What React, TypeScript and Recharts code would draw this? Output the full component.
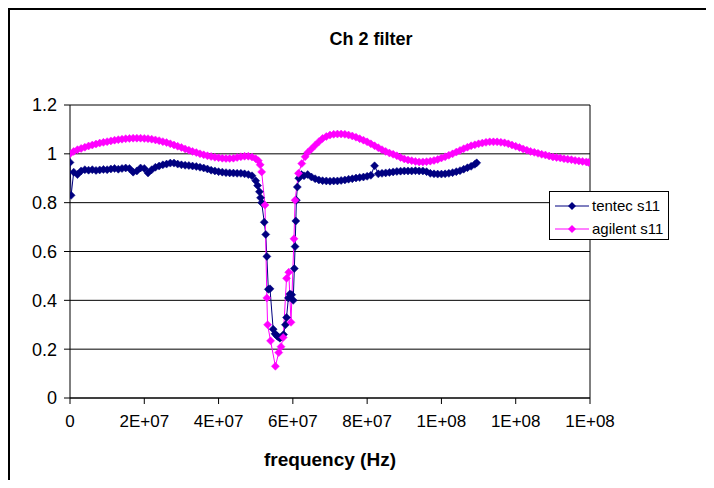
import { LineChart, Line, CartesianGrid, XAxis, YAxis, ReferenceLine, Legend, Label } from 'recharts';

// frequency in MHz, s11 magnitude
const tentecMHz = [
  0, 0.3, 1, 2, 3, 4, 5, 6, 7, 8, 9, 10, 11, 12, 13, 14, 15, 16, 17, 18, 19, 20,
  21, 22, 23, 24, 25, 26, 27, 28, 29, 30, 31, 32, 33, 34, 35, 36, 37, 38, 39, 40,
  41, 42, 43, 44, 45, 46, 47, 48, 49, 50, 50.5, 51, 51.3, 51.6, 52.3, 52.7, 53, 53.4, 53.85,
  54.7, 55.2, 55.7, 56.1, 56.5, 57, 57.5, 58, 58.3, 58.8, 59.2, 59.7, 60.1, 60.4, 60.6,
  60.8, 60.95, 61.2, 61.6, 62.3, 63, 64, 65, 66, 67, 68, 69, 70, 71, 72, 73, 74, 75,
  76, 77, 78, 79, 80, 81, 82, 83, 84, 85, 86, 87, 88, 89, 90, 91, 92, 93, 94, 95, 96,
  97, 98, 99, 100, 101, 102, 103, 104, 105, 106, 107, 108, 109, 109.5,
];
const tentecS11 = [
  0.965, 0.83, 0.925, 0.915, 0.93, 0.935, 0.933, 0.935, 0.932, 0.934, 0.936, 0.935, 0.938, 0.94, 0.937, 0.94, 0.942, 0.94, 0.925, 0.93, 0.942, 0.94,
  0.922, 0.935, 0.945, 0.95, 0.955, 0.958, 0.962, 0.962, 0.958, 0.955, 0.953, 0.952, 0.95, 0.948, 0.945, 0.942, 0.938, 0.933, 0.93, 0.927,
  0.925, 0.923, 0.922, 0.921, 0.92, 0.92, 0.918, 0.915, 0.91, 0.89, 0.87, 0.845, 0.82, 0.8, 0.72, 0.67, 0.58, 0.445, 0.447,
  0.282, 0.263, 0.255, 0.25, 0.245, 0.25, 0.26, 0.3, 0.33, 0.41, 0.426, 0.423, 0.4, 0.53, 0.62,
  0.725, 0.81, 0.864, 0.9, 0.915, 0.91, 0.915, 0.905, 0.898, 0.893, 0.89, 0.889, 0.888, 0.889, 0.889, 0.891, 0.893, 0.896,
  0.898, 0.901, 0.903, 0.905, 0.908, 0.912, 0.951, 0.918, 0.92, 0.922, 0.924, 0.926, 0.928, 0.929, 0.93, 0.93, 0.93, 0.931, 0.93, 0.93, 0.927,
  0.92, 0.918, 0.917, 0.917, 0.918, 0.92, 0.923, 0.927, 0.931, 0.937, 0.943, 0.949, 0.957, 0.963,
];

const agilentMHz = [
  0, 1, 2, 3, 4, 5, 6, 7, 8, 9, 10, 11, 12, 13, 14, 15, 16, 17, 18, 19, 20,
  21, 22, 23, 24, 25, 26, 27, 28, 29, 30, 31, 32, 33, 34, 35, 36, 37, 38, 39, 40,
  41, 42, 43, 44, 45, 46, 47, 48, 49, 50, 50.7, 51.2, 51.6, 52.5, 53, 53.2, 54, 55.3,
  56.2, 56.8, 57.4, 58.3, 58.9, 59.5, 60.3, 60.6, 61.5, 62.4, 63.3, 64, 65, 66, 67, 68,
  69, 70, 71, 72, 73, 74, 75, 76, 77, 78, 79, 80, 81, 82, 83, 84, 85, 86, 87, 88, 89, 90,
  91, 92, 93, 94, 95, 96, 97, 98, 99, 100, 101, 102, 103, 104, 105, 106, 107, 108, 109, 110,
  111, 112, 113, 114, 115, 116, 117, 118, 119, 120, 121, 122, 123, 124, 125, 126, 127, 128, 129, 130,
  131, 132, 133, 134, 135, 136, 137, 138, 139, 139.6,
];
const agilentS11 = [
  1.0, 1.01, 1.017, 1.022, 1.027, 1.032, 1.036, 1.04, 1.044, 1.047, 1.05, 1.053, 1.056, 1.058, 1.06, 1.062, 1.063, 1.064, 1.064, 1.064, 1.063,
  1.062, 1.06, 1.057, 1.054, 1.05, 1.046, 1.041, 1.036, 1.031, 1.026, 1.02, 1.015, 1.01, 1.005, 1.0, 0.996, 0.992, 0.989, 0.986, 0.984,
  0.982, 0.981, 0.981, 0.982, 0.985, 0.988, 0.99, 0.99, 0.987, 0.98, 0.972, 0.955, 0.926, 0.79, 0.41, 0.3, 0.234, 0.13,
  0.186, 0.21, 0.248, 0.49, 0.515, 0.31, 0.652, 0.81, 0.92, 0.96, 0.988, 1.005, 1.02, 1.035, 1.05, 1.063,
  1.071, 1.077, 1.08, 1.081, 1.081, 1.08, 1.077, 1.073, 1.068, 1.062, 1.056, 1.049, 1.041, 1.033, 1.025, 1.017, 1.01, 1.003, 0.998, 0.992, 0.985, 0.979,
  0.975, 0.972, 0.969, 0.967, 0.967, 0.968, 0.97, 0.973, 0.977, 0.983, 0.988, 0.994, 1.0, 1.007, 1.014, 1.021, 1.027, 1.033, 1.037, 1.041,
  1.044, 1.047, 1.049, 1.049, 1.049, 1.047, 1.045, 1.041, 1.036, 1.031, 1.026, 1.02, 1.015, 1.01, 1.006, 1.002, 0.998, 0.995, 0.991, 0.987,
  0.985, 0.983, 0.98, 0.978, 0.976, 0.973, 0.971, 0.969, 0.967, 0.965,
];

const xTicks = [0, 20, 40, 60, 80, 100, 120, 140];
const yTicks = [0, 0.2, 0.4, 0.6, 0.8, 1, 1.2];

const tentecData = tentecMHz.map((f, i) => ({ f, v: tentecS11[i] }));
const agilentData = agilentMHz.map((f, i) => ({ f, v: agilentS11[i] }));

const NAVY = '#000080';
const MAGENTA = '#FF00FF';
const FONT = '"Liberation Sans", Arial, sans-serif';

// excel style "0E+00"
const fmtHz = (mhz: number) => {
  if (mhz === 0) return '0';
  const n = mhz * 1e6;
  const e = Math.floor(Math.log10(n));
  const m = Math.round(n / Math.pow(10, e));
  return `${m}E+${String(e).padStart(2, '0')}`;
};

const diamond = (color: string) => (props: any) => {
  const { cx, cy, index } = props;
  if (cx == null || cy == null) return <g key={index} />;
  const r = 4;
  return (
    <polygon
      key={index}
      points={`${cx},${cy - r} ${cx + r},${cy} ${cx},${cy + r} ${cx - r},${cy}`}
      fill={color}
      stroke={color}
      strokeWidth={0.5}
    />
  );
};

const legendRow = (color: string, text: string) => (
  <div style={{ display: 'flex', alignItems: 'center', height: 23 }}>
    <svg width={36} height={10} style={{ marginLeft: 5 }}>
      <line x1={0} y1={5} x2={34} y2={5} stroke={color} strokeWidth={1} />
      <polygon points="17,1 21,5 17,9 13,5" fill={color} />
    </svg>
    <span style={{ marginLeft: 1, fontSize: 15, fontFamily: FONT, color: '#000' }}>{text}</span>
  </div>
);

const renderLegend = () => (
  <div style={{ border: '1px solid #000', background: '#fff', width: 120, height: 49, paddingTop: 2, boxSizing: 'border-box' }}>
    {legendRow(NAVY, 'tentec s11')}
    {legendRow(MAGENTA, 'agilent s11')}
  </div>
);

export default function App() {
  return (
    <div style={{ position: 'relative', width: 700, height: 470, borderLeft: '2px solid #000', borderTop: '2px solid #000', background: '#fff' }}>
      <div style={{ position: 'absolute', left: 261, top: 19, width: 200, textAlign: 'center', fontFamily: FONT, fontWeight: 'bold', fontSize: 18 }}>
        Ch 2 filter
      </div>
      <LineChart width={698} height={468} margin={{ top: 95, right: 118, bottom: 10, left: 0 }}>
        <CartesianGrid horizontal vertical={false} stroke="#000" />
        <XAxis
          type="number"
          dataKey="f"
          domain={[0, 140]}
          ticks={xTicks}
          tickFormatter={fmtHz}
          height={70}
          tickSize={6}
          tickMargin={11}
          axisLine={{ stroke: '#000' }}
          tickLine={{ stroke: '#000' }}
          tick={{ fill: '#000', fontSize: 17, fontFamily: FONT }}
          allowDataOverflow
        >
          <Label value="frequency (Hz)" position="insideBottom" offset={2} style={{ fontWeight: 'bold', fontSize: 19, fontFamily: FONT, fill: '#000' }} />
        </XAxis>
        <YAxis
          type="number"
          domain={[0, 1.2]}
          ticks={yTicks}
          width={60}
          tickSize={6}
          tickMargin={7}
          axisLine={{ stroke: '#000' }}
          tickLine={{ stroke: '#000' }}
          tick={{ fill: '#000', fontSize: 18, fontFamily: FONT }}
        />
        <ReferenceLine x={140} stroke="#000" />
        <Line
          data={tentecData}
          dataKey="v"
          name="tentec s11"
          type="linear"
          stroke={NAVY}
          strokeWidth={1}
          dot={diamond(NAVY)}
          isAnimationActive={false}
        />
        <Line
          data={agilentData}
          dataKey="v"
          name="agilent s11"
          type="linear"
          stroke={MAGENTA}
          strokeWidth={1}
          dot={diamond(MAGENTA)}
          isAnimationActive={false}
        />
        <Legend
          layout="horizontal"
          verticalAlign="middle"
          align="center"
          content={renderLegend}
          wrapperStyle={{ left: 539, top: 181, width: 120, height: 49 }}
        />
      </LineChart>
    </div>
  );
}
